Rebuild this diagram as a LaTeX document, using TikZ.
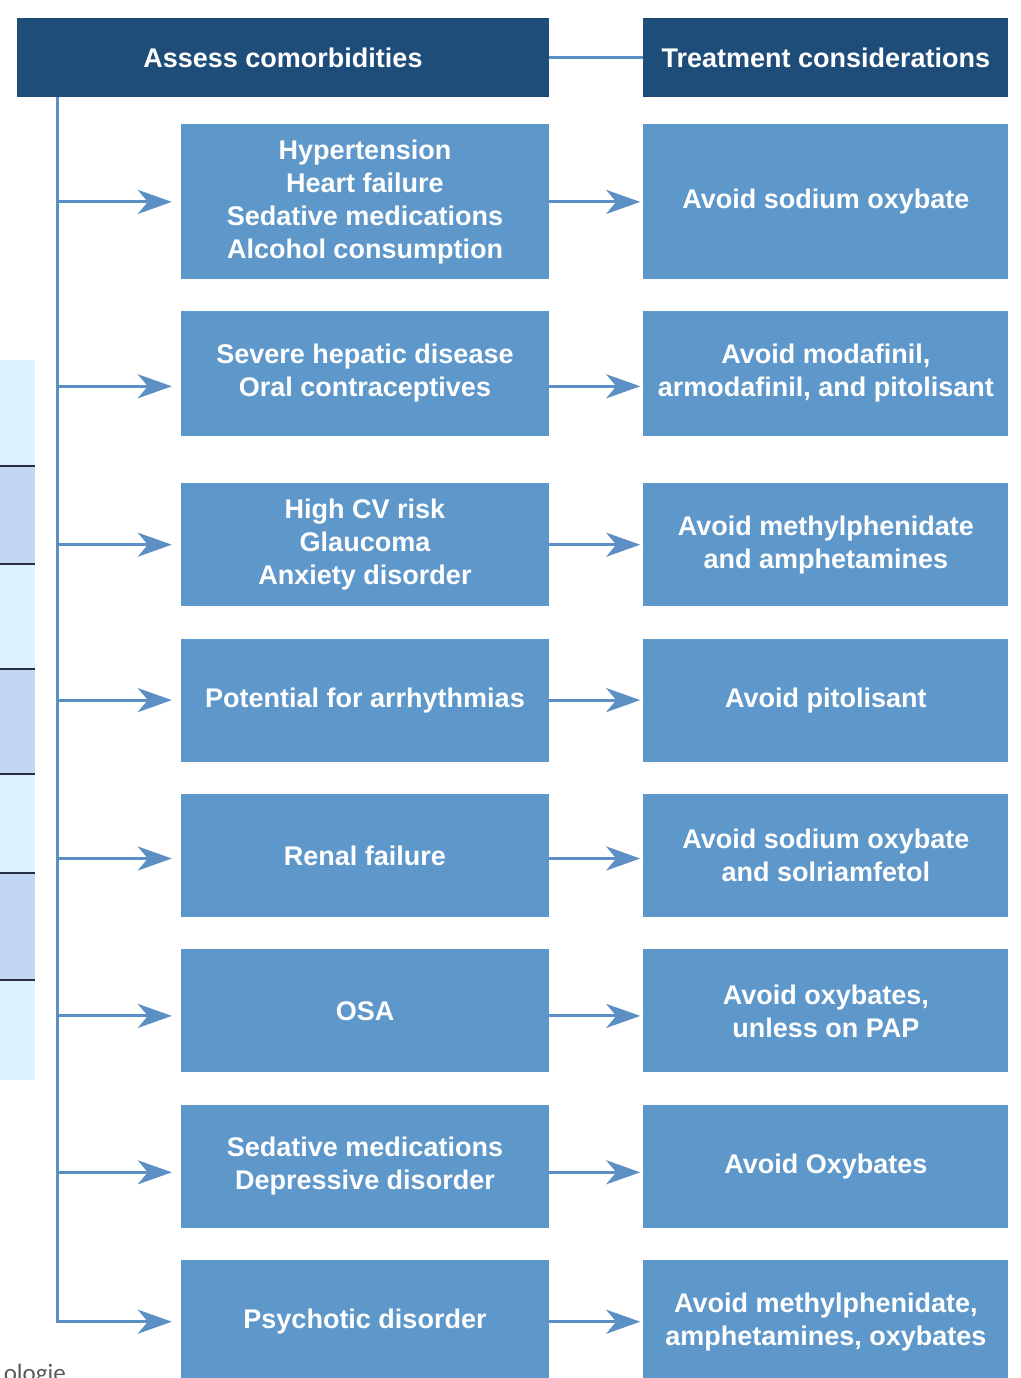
\documentclass[tikz,border=0pt]{standalone}
\usepackage{fontspec}
\setmainfont{Liberation Sans}
\newfontfamily\notefont{Carlito}
\usetikzlibrary{arrows.meta,positioning}
\definecolor{headblue}{RGB}{30,77,122}
\definecolor{boxblue}{RGB}{94,151,202}
\definecolor{linkblue}{RGB}{92,143,196}
\definecolor{cellpale}{RGB}{221,243,253}
\definecolor{cellblue}{RGB}{194,215,243}
\definecolor{cellrule}{RGB}{38,46,70}

\begin{document}
\begin{tikzpicture}[
  x=1pt, y=-1pt,
  every node/.style={font=\bfseries\fontsize{27}{33}\selectfont, text=white},
  head/.style={fill=headblue, align=center, minimum height=79pt, inner sep=2pt},
  lbox/.style={fill=boxblue, align=center, minimum width=368pt, inner sep=2pt},
  rbox/.style={fill=boxblue, align=center, minimum width=365pt, inner sep=2pt},
  link/.style={draw=linkblue, line width=3pt},
  arr/.style={link, -{Stealth[length=34pt, width=24pt, inset=10pt]}}
]
\useasboundingbox (0,0) rectangle (1020,1378);
\fill[white] (0,0) rectangle (1020,1378);

% table edge peeking in from the page behind
\foreach \top/\bot/\col in {360/466/cellpale, 466/564/cellblue, 564/669/cellpale,
    669/774/cellblue, 774/873/cellpale, 873/980/cellblue, 980/1080/cellpale}
  \fill[\col] (0,\top) rectangle (35,\bot);
\foreach \yy in {466,564,669,774,873,980}
  \draw[cellrule, line width=2pt] (0,\yy) -- (35,\yy);
\node[font=\notefont\fontsize{25}{30}\selectfont, text=black!65, anchor=base east,
      inner sep=0pt] (src) at (66,1381) {ologie};

% headers
\node[head, minimum width=532pt] (ha) at (283,57.5) {Assess comorbidities};
\node[head, minimum width=365pt, right=94pt of ha] (hb) {Treatment considerations};

% comorbidities
\node[lbox, minimum height=155pt, anchor=north east] (l1) at ([yshift=-27pt]ha.south east)
  {Hypertension\\Heart failure\\Sedative medications\\Alcohol consumption};
\node[lbox, minimum height=125pt, below=31pt of l1] (l2) {Severe hepatic disease\\Oral contraceptives};
\node[lbox, minimum height=123pt, below=47pt of l2] (l3) {High CV risk\\Glaucoma\\Anxiety disorder};
\node[lbox, minimum height=123pt, below=32pt of l3] (l4) {Potential for arrhythmias};
\node[lbox, minimum height=123pt, below=32pt of l4] (l5) {Renal failure};
\node[lbox, minimum height=123pt, below=32pt of l5] (l6) {OSA};
\node[lbox, minimum height=123pt, below=32pt of l6] (l7) {Sedative medications\\Depressive disorder};
\node[lbox, minimum height=123pt, below=32pt of l7] (l8) {Psychotic disorder};

% treatment
\node[rbox, minimum height=155pt, right=94pt of l1] (r1) {Avoid sodium oxybate};
\node[rbox, minimum height=125pt, right=94pt of l2] (r2) {Avoid modafinil,\\armodafinil, and pitolisant};
\node[rbox, minimum height=123pt, right=94pt of l3] (r3) {Avoid methylphenidate\\and amphetamines};
\node[rbox, minimum height=123pt, right=94pt of l4] (r4) {Avoid pitolisant};
\node[rbox, minimum height=123pt, right=94pt of l5] (r5) {Avoid sodium oxybate\\and solriamfetol};
\node[rbox, minimum height=123pt, right=94pt of l6] (r6) {Avoid oxybates,\\unless on PAP};
\node[rbox, minimum height=123pt, right=94pt of l7] (r7) {Avoid Oxybates};
\node[rbox, minimum height=123pt, right=94pt of l8] (r8) {Avoid methylphenidate,\\amphetamines, oxybates};

% connectors
\draw[link] (ha) -- (hb);
\coordinate (trunk) at ([xshift=41pt]ha.south west);
\draw[arr, shorten >=9pt] (trunk) |- (l8.west);
\foreach \i/\dy in {1/0,2/-13,3/0,4/0,5/-3,6/-5,7/-6,8/0} {
  \coordinate (lin\i) at ([yshift=\dy pt]l\i.west);
  \coordinate (lout\i) at ([yshift=\dy pt]l\i.east);
  \coordinate (rin\i) at ([yshift=\dy pt]r\i.west);
  \draw[arr, shorten >=3pt] (lout\i) -- (rin\i);
}
\foreach \i in {1,...,7}
  \draw[arr, shorten >=9pt] (trunk |- lin\i) -- (lin\i);
\end{tikzpicture}
\end{document}
